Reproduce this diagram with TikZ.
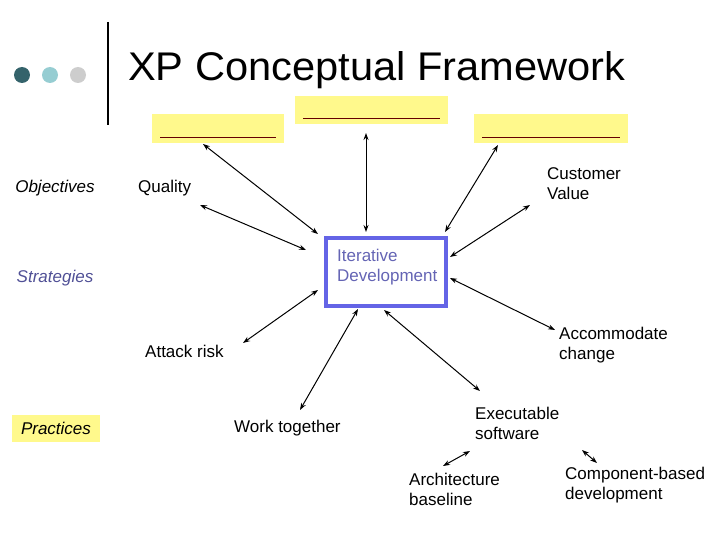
\documentclass[tikz,border=0pt]{standalone}
\usepackage{fontspec}
\setmainfont{Liberation Sans}
\usetikzlibrary{arrows.meta}
\begin{document}
\begin{tikzpicture}[x=1pt,y=-1pt,
  lbl/.style={font=\fontsize{17}{20}\selectfont,align=left,inner sep=0},
  ybox/.style={fill=yellow!45},
  dbl/.style={{Stealth[length=7pt,width=5pt]}-{Stealth[length=7pt,width=5pt]},line width=1pt}]
\useasboundingbox (0,0) rectangle (720,540);
\fill[fill={rgb,255:red,52;green,99;blue,107}] (22,75) circle (8);
\fill[fill={rgb,255:red,150;green,205;blue,210}] (50,75) circle (8);
\fill[fill={rgb,255:red,205;green,205;blue,205}] (78,75) circle (8);
\draw[line width=1.5pt] (108,22) -- (108,125);
\node[anchor=west,font=\fontsize{40}{44}\selectfont,inner sep=0,xscale=1.04] (title) at (128,70) {XP Conceptual Framework};
\node[ybox,minimum width=132,minimum height=29,anchor=north west] (bl) at (152,114) {};
\node[ybox,minimum width=153,minimum height=28,anchor=north west] (bm) at (295,96) {};
\node[ybox,minimum width=154,minimum height=29,anchor=north west] (br) at (474,114) {};
\draw[red!40!black] (160,137) -- (276,137) (303,118) -- (440,118) (482,137) -- (620,137);
\node[ybox,minimum width=88,minimum height=27,anchor=north west] (pr) at (12,415) {};
\node[lbl,font=\fontsize{17}{20}\selectfont\itshape] (obj) at (55,188) {Objectives};
\node[lbl,font=\fontsize{17}{20}\selectfont\itshape,text={rgb,255:red,80;green,80;blue,150}] (str) at (55,278) {Strategies};
\node[lbl,font=\fontsize{17}{20}\selectfont\itshape] (prt) at (56,428) {Practices};
\node[draw={rgb,255:red,100;green,100;blue,230},line width=4pt,minimum width=120,minimum height=68,anchor=north west] (id) at (324,236) {};
\node[lbl,anchor=north west,text={rgb,255:red,100;green,100;blue,180}] (idt) at (337,249) {Iterative\\Development};
\node[lbl,anchor=west] (q) at (138,188) {Quality};
\node[lbl,anchor=north west] (cv) at (547,167) {Customer\\Value};
\node[lbl,anchor=north west] (ac) at (559,327) {Accommodate\\change};
\node[lbl,anchor=west] (ar) at (145,351) {Attack risk};
\node[lbl,anchor=west] (wt) at (234,428) {Work together};
\node[lbl,anchor=north west] (es) at (475,407) {Executable\\software};
\node[lbl,anchor=north west] (ab) at (409,473) {Architecture\\baseline};
\node[lbl,anchor=north west] (cb) at (565,467) {Component-based\\development};
\coordinate (a1) at (203,144); \coordinate (a1e) at (318,234);
\coordinate (a2) at (366,133); \coordinate (a2e) at (366,232);
\coordinate (a3) at (498,145); \coordinate (a3e) at (445,232);
\coordinate (a4) at (200,205); \coordinate (a4e) at (306,250);
\coordinate (a5) at (530,205); \coordinate (a5e) at (450,257);
\coordinate (a6) at (555,330); \coordinate (a6e) at (450,278);
\coordinate (a7) at (243,343); \coordinate (a7e) at (318,290);
\coordinate (a8) at (300,410); \coordinate (a8e) at (358,309);
\coordinate (a9) at (480,391); \coordinate (a9e) at (384,310);
\coordinate (b1) at (443,466); \coordinate (b1e) at (470,451);
\coordinate (b2) at (597,463); \coordinate (b2e) at (582,450);
\foreach \s/\e in {a1/a1e,a2/a2e,a3/a3e,a4/a4e,a5/a5e,a6/a6e,a7/a7e,a8/a8e,a9/a9e,b1/b1e,b2/b2e}
  \draw[dbl] (\s) -- (\e);
\end{tikzpicture}
\end{document}
